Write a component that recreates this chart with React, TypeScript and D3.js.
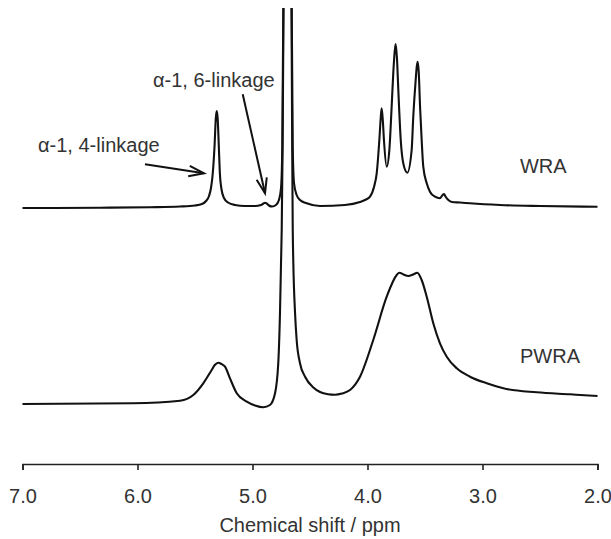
import React, { useEffect, useRef } from "react";
import * as d3 from "d3";

// ---- data (chemical shift in ppm, intensity in a.u. relative to each trace's own baseline) ----
const ppmTicks = [7, 6, 5, 4, 3, 2];

const wraPpm = [
  7.0, 6.326, 5.891, 5.63, 5.5, 5.439, 5.404, 5.378, 5.361, 5.346, 5.33, 5.319, 5.311, 5.303, 5.293,
  5.284, 5.27, 5.248, 5.213, 5.152, 5.065, 4.978, 4.926, 4.904, 4.891, 4.876, 4.857, 4.83, 4.796,
  4.77, 4.752, 4.741, 4.732, 4.722, 4.696, 4.67, 4.659, 4.65, 4.639, 4.616, 4.587, 4.529, 4.413,
  4.196, 4.065, 4.013, 3.978, 3.943, 3.92, 3.897, 3.885, 3.877, 3.867, 3.857, 3.833, 3.81, 3.79,
  3.776, 3.764, 3.755, 3.744, 3.732, 3.711, 3.689, 3.654, 3.616, 3.602, 3.581, 3.571, 3.563, 3.554,
  3.543, 3.529, 3.515, 3.485, 3.457, 3.413, 3.37, 3.35, 3.335, 3.319, 3.297, 3.265, 3.196, 3.109,
  2.848, 2.5, 2.0,
];
const wraInt = [
  0, 0.3, 0.8, 1.5, 2.5, 4, 7, 12, 20, 34, 62, 90, 97, 90, 62,
  35, 19, 10, 5.5, 3, 2, 2, 3, 4.5, 5.3, 4.5, 2.5, 1.5, 3,
  8, 20, 60, 200, 500, 1200, 500, 200, 60, 25, 13, 8, 4.7, 2,
  3, 6, 8.5, 11.3, 21.3, 34.7, 68, 90, 99.7, 88, 68, 41.3, 58, 101.3,
  134.7, 156, 164, 150, 118, 68, 44.7, 35.3, 58, 91.3, 128, 142, 146.3, 135,
  101.3, 68, 41.3, 24.7, 16.3, 11.3, 9.7, 12.5, 14, 11, 8, 6, 5.5, 4.7,
  3, 2, 1.3,
];

const pwraPpm = [
  7.0, 6.039, 5.63, 5.515, 5.428, 5.355, 5.328, 5.297, 5.27, 5.239, 5.196, 5.137, 5.05, 4.978,
  4.906, 4.848, 4.804, 4.776, 4.761, 4.752, 4.746, 4.738, 4.73, 4.717, 4.696, 4.674, 4.661, 4.655,
  4.65, 4.645, 4.63, 4.616, 4.587, 4.543, 4.471, 4.413, 4.343, 4.283, 4.222, 4.152, 4.065, 3.95,
  3.833, 3.746, 3.723, 3.687, 3.645, 3.604, 3.567, 3.529, 3.485, 3.428, 3.37, 3.311, 3.224, 3.109,
  2.963, 2.819, 2.529, 2.239, 2.0,
];
const pwraInt = [
  0, 0.7, 3.3, 9, 20.7, 34, 39, 41.3, 40, 37.3, 25.7, 10.7, 2.3, -1.5,
  -3.3, -1, 10.7, 40.7, 91, 141, 174, 260, 400, 800, 1200, 800, 400, 260,
  174, 141, 91, 64, 40.7, 27.3, 16.5, 12, 9.8, 9.3, 10.5, 14, 27.3, 64,
  107.3, 129, 131.3, 129.5, 128, 129.5, 131.3, 124, 107.3, 80.7, 60.7, 47.3, 35.7, 27.3,
  20.7, 15.7, 11.7, 9.7, 8,
];

const seriesNames = ["WRA", "PWRA"];
const seriesOffsets = [196, 0];
const seriesLabelPpm = [2.674, 2.674];
const seriesLabelInt = [34.7, 40.7];

// annotations on the WRA trace
const annoText = ["α-1, 4-linkage", "α-1, 6-linkage"];
const annoTextPpm = [6.865, 5.865];
const annoTextInt = [56, 121];
const arrowTailPpm = [5.935, 5.085];
const arrowTailInt = [43.7, 113.7];
const arrowTipPpm = [5.422, 4.891];
const arrowTipInt = [34.7, 14.7];

const xTitle = "Chemical shift / ppm";

const W = 611;
const H = 539;
const FONT = "'Liberation Sans', Arial, Helvetica, sans-serif";
const TEXT_COLOR = "#333";

export default function App() {
  const axisRef = useRef<SVGGElement | null>(null);

  const x = d3.scaleLinear().domain([7, 2]).range([22.5, 597.5]);
  const y = d3.scaleLinear().domain([0, 396]).range([404, 8]);
  const axisY = 464;

  const series = [
    { name: seriesNames[0], ppm: wraPpm, val: wraInt, off: seriesOffsets[0] },
    { name: seriesNames[1], ppm: pwraPpm, val: pwraInt, off: seriesOffsets[1] },
  ];

  const line = d3
    .line<[number, number]>()
    .x((d) => x(d[0]))
    .y((d) => y(d[1]))
    .curve(d3.curveMonotoneX);

  useEffect(() => {
    if (!axisRef.current) return;
    const g = d3.select(axisRef.current);
    g.selectAll("*").remove();
    const axis = d3
      .axisBottom(x)
      .tickValues(ppmTicks)
      .tickFormat(d3.format(".1f") as any)
      .tickSizeInner(6)
      .tickSizeOuter(6)
      .tickPadding(19);
    g.call(axis as any);
    g.select(".domain").attr("stroke", "#222").attr("stroke-width", 1.6);
    g.selectAll(".tick line").attr("stroke", "#222").attr("stroke-width", 1.6);
    g.selectAll(".tick text")
      .attr("fill", TEXT_COLOR)
      .style("font-family", FONT)
      .style("font-size", "20px");
  }, []);

  const arrowHead = (x1: number, y1: number, x2: number, y2: number) => {
    const ang = Math.atan2(y2 - y1, x2 - x1);
    const len = 16;
    const spread = 0.33;
    const a1 = ang + Math.PI - spread;
    const a2 = ang + Math.PI + spread;
    return `M${x2 + len * Math.cos(a1)},${y2 + len * Math.sin(a1)}L${x2},${y2}L${x2 + len * Math.cos(a2)},${y2 + len * Math.sin(a2)}`;
  };

  return (
    <svg
      width={W}
      height={H}
      style={{ position: "absolute", left: 0, top: 0, background: "#fff" }}
    >
      <defs>
        <clipPath id="plotClip">
          <rect x={0} y={8} width={W} height={H - 8} />
        </clipPath>
      </defs>
      <rect x={0} y={0} width={W} height={H} fill="#fff" />
      <g clipPath="url(#plotClip)">
        {series.map((s) => (
          <path
            key={s.name}
            d={line(s.ppm.map((p, i) => [p, s.val[i] + s.off]) as [number, number][]) || ""}
            fill="none"
            stroke="#111"
            strokeWidth={2.1}
            strokeLinejoin="round"
          />
        ))}
      </g>
      {series.map((s, i) => (
        <text
          key={s.name + "-lbl"}
          x={x(seriesLabelPpm[i])}
          y={y(seriesLabelInt[i] + s.off)}
          fill={TEXT_COLOR}
          style={{ fontFamily: FONT, fontSize: "20px" }}
        >
          {s.name}
        </text>
      ))}
      {annoText.map((t, i) => {
        const off = seriesOffsets[0];
        const x1 = x(arrowTailPpm[i]);
        const y1 = y(arrowTailInt[i] + off);
        const x2 = x(arrowTipPpm[i]);
        const y2 = y(arrowTipInt[i] + off);
        return (
          <g key={t}>
            <text
              x={x(annoTextPpm[i])}
              y={y(annoTextInt[i] + off)}
              fill={TEXT_COLOR}
              style={{ fontFamily: FONT, fontSize: "20px" }}
            >
              {t}
            </text>
            <line x1={x1} y1={y1} x2={x2} y2={y2} stroke="#111" strokeWidth={2} />
            <path d={arrowHead(x1, y1, x2, y2)} fill="none" stroke="#111" strokeWidth={2} />
          </g>
        );
      })}
      <g ref={axisRef} transform={`translate(0,${axisY})`} />
      <text
        x={x(4.5)}
        y={532}
        textAnchor="middle"
        fill={TEXT_COLOR}
        style={{ fontFamily: FONT, fontSize: "20px" }}
      >
        {xTitle}
      </text>
    </svg>
  );
}
